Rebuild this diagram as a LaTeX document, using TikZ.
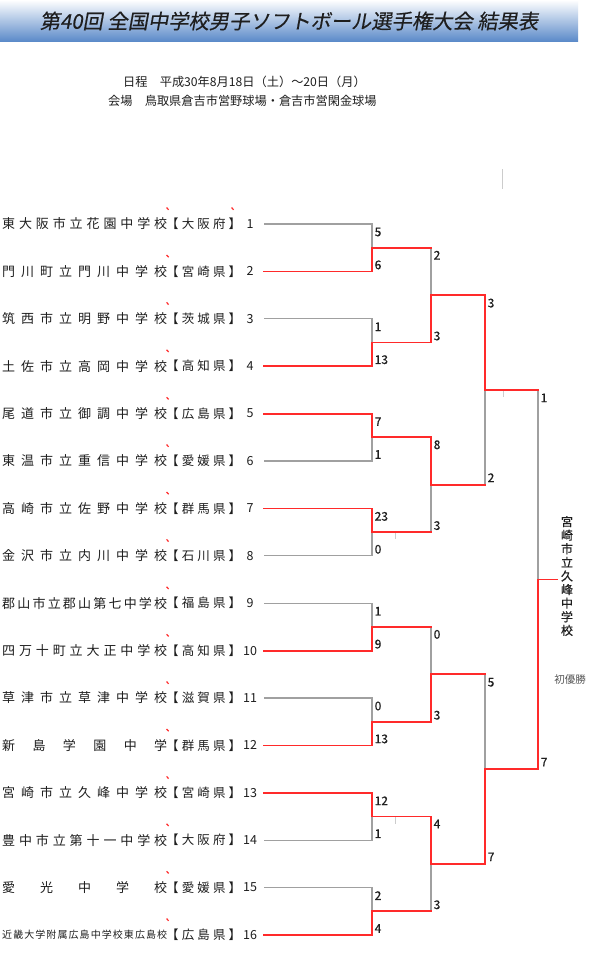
\documentclass[tikz,border=0pt]{standalone}
\usepackage{fontspec}
\newfontfamily\jp{Noto Sans CJK JP}
\newfontfamily\jpb[FakeBold=0.6]{Noto Sans CJK JP}
\newfontfamily\jpslant[FakeSlant=0.18,FakeBold=0.3]{Noto Sans CJK JP}
\definecolor{redline}{HTML}{FF2A2A}
\definecolor{grayline}{HTML}{A0A0A0}
\definecolor{ticklight}{HTML}{CCCCCC}
\definecolor{inktext}{HTML}{1E1E1E}
\definecolor{softtext}{HTML}{555555}
\definecolor{titleblue}{RGB}{88,136,200}
\definecolor{titlemid}{RGB}{196,212,236}
\def\dfirst#1{#1\dnext}
\def\dnext#1{\ifx#1\relax\else\hfill#1\expandafter\dnext\fi}
\newcommand\spreadbox[2]{\makebox[#1][s]{\expandafter\dfirst#2\relax}}
\begin{document}
\begin{tikzpicture}[x=1pt,y=-1pt,
  gl/.style={draw=grayline,line width=1.1pt},
  rl/.style={draw=redline,line width=1.8pt,line cap=rect,line join=miter},
  teamname/.style={anchor=west,inner sep=0pt,text=inktext},
  pref/.style={anchor=west,inner sep=0pt,text=inktext,font=\jp\fontsize{12.5}{13}\selectfont},
  seed/.style={inner sep=0pt,text=inktext,font=\jp\fontsize{12.5}{13}\selectfont},
  score/.style={anchor=west,inner sep=0pt,text=inktext,font=\jpb\fontsize{12}{12}\selectfont},
  info/.style={anchor=west,inner sep=0pt,text=inktext,font=\jp\fontsize{12.2}{13}\selectfont},
  tickline/.style={draw=ticklight,line width=1pt},
  redmark/.style={draw=redline,line width=1.2pt}]
\useasboundingbox (0,0) rectangle (600,979);
\fill[white] (0,0) rectangle (600,979);
% title band
\shade[top color=white,middle color=titlemid,bottom color=titleblue] (0,0) rectangle (578,42);
\node[inner sep=0pt,text=inktext,font=\jpslant\fontsize{20.3}{21}\selectfont] (title) at (289,21)
  {第40回 全国中学校男子ソフトボール選手権大会 結果表};
\node[info] (sched) at (123,82) {日程　平成30年8月18日（土）～20日（月）};
\node[info] (venue) at (108,101) {会場　鳥取県倉吉市営野球場・倉吉市営閑金球場};
\draw[tickline] (502,169) -- (502,189);
% small ticks (under the lines)
\draw[tickline] (503,390) -- (503,397);
\draw[tickline] (395,532) -- (395,539);
\draw[tickline] (395,817) -- (395,824);
% rows
\foreach \i/\fs/\nm/\pf in {
  1/13/東大阪市立花園中学校/【大阪府】,
  2/13/門川町立門川中学校/【宮崎県】,
  3/13/筑西市立明野中学校/【茨城県】,
  4/13/土佐市立高岡中学校/【高知県】,
  5/13/尾道市立御調中学校/【広島県】,
  6/13/東温市立重信中学校/【愛媛県】,
  7/13/高崎市立佐野中学校/【群馬県】,
  8/13/金沢市立内川中学校/【石川県】,
  9/13/郡山市立郡山第七中学校/【福島県】,
  10/13/四万十町立大正中学校/【高知県】,
  11/13/草津市立草津中学校/【滋賀県】,
  12/13/新島学園中学/【群馬県】,
  13/13/宮崎市立久峰中学校/【宮崎県】,
  14/13/豊中市立第十一中学校/【大阪府】,
  15/13/愛光中学校/【愛媛県】,
  16/10/近畿大学附属広島中学校東広島校/【広島県】}{
  \pgfmathsetmacro\yy{224+(\i-1)*47.4}
  \coordinate (a\i) at (264,\yy);
  \coordinate (b\i) at (372,\yy);
  \node[teamname,font=\jp\fontsize{\fs}{13}\selectfont] (t\i) at (2,\yy) {\spreadbox{165pt}{\nm}};
  \node[pref] (p\i) at (166,\yy) {\spreadbox{75pt}{\pf}};
  \node[seed] (n\i) at (250,\yy) {\i};
  \draw[redmark] (166.6,\yy-16.4) -- (168.6,\yy-14.2);
}
\draw[redmark] (231.6,207.6) -- (233.6,209.8);
% junction coordinates
\foreach \k in {1,...,8}{
  \pgfmathsetmacro\yy{224+(2*\k-1.5)*47.4}
  \coordinate (j1-\k) at (372,\yy);
  \coordinate (k1-\k) at (431,\yy);
}
\foreach \k in {1,...,4}{
  \pgfmathsetmacro\yy{224+(4*\k-2.5)*47.4}
  \coordinate (j2-\k) at (431,\yy);
  \coordinate (k2-\k) at (485,\yy);
}
\foreach \k in {1,2}{
  \pgfmathsetmacro\yy{224+(8*\k-4.5)*47.4}
  \coordinate (j3-\k) at (485,\yy);
  \coordinate (k3-\k) at (538,\yy);
}
\coordinate (j4) at (538,579.5);
\coordinate (k4) at (557,579.5);
% losers (gray)
\foreach \i/\k in {1/1,3/2,6/3,8/4,9/5,11/6,14/7,15/8}
  \draw[gl] (a\i) -- (b\i) -- (j1-\k);
\foreach \m/\k in {1/1,4/2,5/3,8/4}
  \draw[gl] (k1-\m) -- (j2-\k);
\draw[gl] (k2-2) -- (j3-1);
\draw[gl] (k2-3) -- (j3-2);
\draw[gl] (k3-1) -- (j4);
% winners (red)
\foreach \i/\k in {2/1,4/2,5/3,7/4,10/5,12/6,13/7,16/8}
  \draw[rl] (a\i) -- (b\i) -- (j1-\k) -- (k1-\k);
\foreach \m/\k in {2/1,3/2,6/3,7/4}
  \draw[rl] (k1-\m) -- (j2-\k) -- (k2-\k);
\draw[rl] (k2-1) -- (j3-1) -- (k3-1);
\draw[rl] (k2-4) -- (j3-2) -- (k3-2);
\draw[rl] (k3-2) -- (j4);
\draw[rl] (j4) -- (k4);
% scores
\foreach \k/\u/\l in {1/5/6,2/1/13,3/7/1,4/23/0,5/1/9,6/0/13,7/12/1,8/2/4}{
  \pgfmathtruncatemacro\ra{2*\k-1}
  \pgfmathtruncatemacro\rb{2*\k}
  \node[score] (sa1-\k) at ([xshift=2.5pt,yshift=-8pt]b\ra) {\u};
  \node[score] (sb1-\k) at ([xshift=2.5pt,yshift=6.5pt]b\rb) {\l};
}
\foreach \k/\u/\l in {1/2/3,2/8/3,3/0/3,4/4/3}{
  \pgfmathtruncatemacro\ra{2*\k-1}
  \pgfmathtruncatemacro\rb{2*\k}
  \node[score] (sa2-\k) at ([xshift=2.5pt,yshift=-7.5pt]k1-\ra) {\u};
  \node[score] (sb2-\k) at ([xshift=2.5pt,yshift=6.5pt]k1-\rb) {\l};
}
\foreach \k/\u/\l in {1/3/2,2/5/7}{
  \pgfmathtruncatemacro\ra{2*\k-1}
  \pgfmathtruncatemacro\rb{2*\k}
  \node[score] (sa3-\k) at ([xshift=2.5pt,yshift=-8pt]k2-\ra) {\u};
  \node[score] (sb3-\k) at ([xshift=2.5pt,yshift=7pt]k2-\rb) {\l};
}
\node[score] (sa4) at ([xshift=2.5pt,yshift=-8pt]k3-1) {1};
\node[score] (sb4) at ([xshift=2.5pt,yshift=7pt]k3-2) {7};
% champion
\node[inner sep=0pt,align=center,text=inktext,font=\jpb\fontsize{12}{13.6}\selectfont] (champ) at (567,576)
  {宮\\崎\\市\\立\\久\\峰\\中\\学\\校};
\node[inner sep=0pt,text=softtext,font=\jp\fontsize{10.5}{11}\selectfont] (first) at (570,680) {初優勝};
\end{tikzpicture}
\end{document}
